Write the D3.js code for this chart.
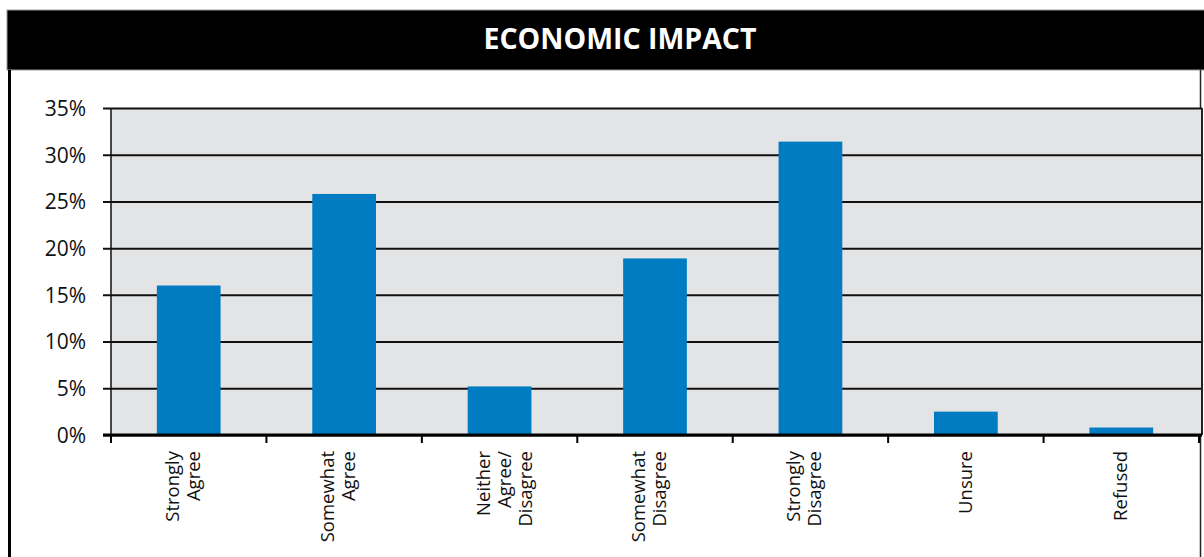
<!DOCTYPE html>
<html>
<head>
<meta charset="utf-8">
<script src="https://cdn.jsdelivr.net/npm/d3@7"></script>
<style>
  html, body { margin: 0; padding: 0; background: #fff; }
  svg { display: block; }
</style>
</head>
<body>
<svg id="chart" width="1204" height="557"></svg>
<script>
// Survey responses: economic impact
const chartTitle = "ECONOMIC IMPACT";
const categories = [
  ["Strongly", "Agree"],
  ["Somewhat", "Agree"],
  ["Neither", "Agree/", "Disagree"],
  ["Somewhat", "Disagree"],
  ["Strongly", "Disagree"],
  ["Unsure"],
  ["Refused"]
];
const shares = [16.0, 25.8, 5.2, 18.9, 31.4, 2.5, 0.8];
const yTicks = [0, 5, 10, 15, 20, 25, 30, 35];

const W = 1204, H = 557;
const plot = { left: 111, right: 1199, top: 108, bottom: 435 };
const barColor = "#017cc2";
const plotFill = "#e3e4e6";
const font = "'Open Sans', 'Noto Sans', sans-serif";

const svg = d3.select("#chart");
const keys = categories.map(c => c.join(" "));

const x = d3.scaleBand().domain(keys).range([plot.left, plot.right]).padding(0);
const y = d3.scaleLinear().domain([0, 35]).range([plot.bottom, plot.top]);

// frame and header band
svg.append("rect").attr("x", 7).attr("y", 10).attr("width", W).attr("height", 60)
  .attr("fill", "#000").attr("stroke", "#999").attr("stroke-width", 1);
svg.append("line").attr("x1", 9.5).attr("x2", 9.5).attr("y1", 70).attr("y2", H)
  .attr("stroke", "#000").attr("stroke-width", 3);
svg.append("line").attr("x1", 1200.5).attr("x2", 1200.5).attr("y1", 70).attr("y2", H)
  .attr("stroke", "#222").attr("stroke-width", 1.5);

svg.append("text")
  .attr("x", 620).attr("y", 49)
  .attr("text-anchor", "middle")
  .attr("fill", "#fff")
  .attr("font-family", font)
  .attr("font-weight", 700)
  .attr("font-size", 28.5)
  .text(chartTitle);

// plot background
svg.append("rect")
  .attr("x", plot.left).attr("y", plot.top)
  .attr("width", 1202 - plot.left).attr("height", plot.bottom - plot.top)
  .attr("fill", plotFill);

// horizontal gridlines with left ticks
const yAxis = d3.axisLeft(y)
  .tickValues(yTicks)
  .tickSize(-(1202 - plot.left))
  .tickPadding(25)
  .tickFormat(d => d + "%");
const gy = svg.append("g").attr("transform", `translate(${plot.left},0)`).call(yAxis);
gy.select(".domain").remove();
gy.selectAll(".tick line")
  .attr("x1", -8)
  .attr("stroke", "#111")
  .attr("stroke-width", 2);
gy.selectAll(".tick text")
  .attr("font-family", font)
  .attr("font-size", 21)
  .attr("fill", "#111")
  .attr("dy", "0.35em");

// right plot border
svg.append("line").attr("x1", 1202).attr("x2", 1202).attr("y1", plot.top).attr("y2", plot.bottom)
  .attr("stroke", "#222").attr("stroke-width", 2);

// bars
const barW = x.bandwidth() * 0.41;
svg.append("g").selectAll("rect").data(shares).join("rect")
  .attr("x", (d, i) => x(keys[i]) + (x.bandwidth() - barW) / 2)
  .attr("width", barW)
  .attr("y", d => y(d))
  .attr("height", d => y(0) - y(d))
  .attr("fill", barColor);

// vertical axis line
svg.append("line").attr("x1", plot.left).attr("x2", plot.left)
  .attr("y1", plot.top).attr("y2", plot.bottom)
  .attr("stroke", "#111").attr("stroke-width", 1.5);

// zero baseline and category ticks
svg.append("line").attr("x1", 103).attr("x2", 1202)
  .attr("y1", y(0)).attr("y2", y(0))
  .attr("stroke", "#000").attr("stroke-width", 3);
const tickXs = keys.map(k => x(k)).concat([plot.right]);
svg.append("g").selectAll("line").data(tickXs).join("line")
  .attr("x1", d => d).attr("x2", d => d)
  .attr("y1", y(0)).attr("y2", y(0) + 8)
  .attr("stroke", "#000").attr("stroke-width", 2);

// rotated category labels
const lineGap = 21;
const labels = svg.append("g").selectAll("text").data(categories).join("text")
  .attr("transform", (d, i) => `translate(${x(keys[i]) + x.bandwidth() / 2},451) rotate(-90)`)
  .attr("text-anchor", "end")
  .attr("font-family", font)
  .attr("font-size", 18.5)
  .attr("fill", "#111");
labels.each(function(lines) {
  const first = lines.length === 1 ? 6 : -10;
  d3.select(this).selectAll("tspan").data(lines).join("tspan")
    .attr("x", 0)
    .attr("y", (l, j) => first + j * lineGap)
    .text(l => l);
});
</script>
</body>
</html>
